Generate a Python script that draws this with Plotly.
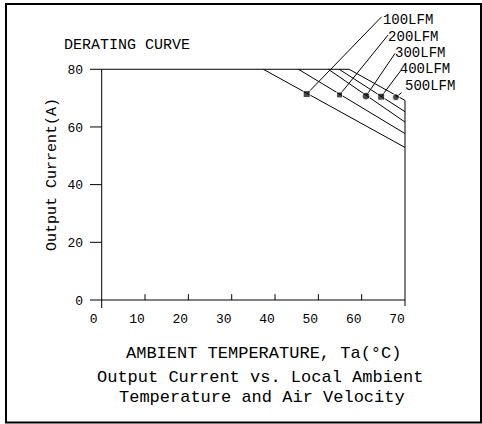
import plotly.graph_objects as go

# ---- data ----
airflow = ["100LFM", "200LFM", "300LFM", "400LFM", "500LFM"]
knee_temp = [37.3, 45.4, 52.3, 54.8, 57.1]      # deg C where derating starts
end_current = [52.9, 57.7, 61.7, 65.3, 69.2]    # A at 70 deg C
max_current = 80
max_temp = 70
dot_temp = [47.3, 54.9, 61.0, 64.5, 67.9]
dot_current = [71.4, 71.1, 70.7, 70.5, 70.3]
label_temp = [64.9, 66.1, 67.7, 68.8, 70.0]
label_current = [96.9, 91.1, 85.4, 79.8, 73.9]
leader_temp = [64.6, 66.1, 67.7, 69.0, 69.2]
leader_current = [98.2, 91.9, 85.5, 79.5, 71.9]
x_ticks = [0, 10, 20, 30, 40, 50, 60, 70]
y_ticks = [0, 20, 40, 60, 80]

# ---- pixel geometry ----
W, H = 482, 424
ML, MR, MT, MB = 84, 8, 12, 115
X0PX, XSCALE = 101.7, 4.333   # px of 0 degC, px per degC
Y0PX, YSCALE = 300.0, 2.884   # px of 0 A, px per A
xr = [(ML - X0PX) / XSCALE, (W - MR - X0PX) / XSCALE]
yr = [(Y0PX - (H - MB)) / YSCALE, (Y0PX - MT) / YSCALE]
def px_x(p):
    return (p - ML) / (W - ML - MR)
def px_y(p):
    return ((H - MB) - p) / (H - MT - MB)

FONT = "Liberation Mono"
BLACK = "#000000"
fig = go.Figure()

# axis lines and ticks drawn in data space
ytick_len = 11.7 / XSCALE
xtick_len = 5.8 / YSCALE
ax_x, ax_y = [], []
# y axis line (extends below x axis as 0 tick)
ax_x += [0, 0, None]; ax_y += [-8 / YSCALE, max_current, None]
for v in y_ticks:
    ax_x += [-ytick_len, 0, None]; ax_y += [v, v, None]
# x axis line
ax_x += [0, max_temp, None]; ax_y += [0, 0, None]
for v in x_ticks[1:-1]:
    ax_x += [v, v, None]; ax_y += [0, xtick_len, None]
fig.add_trace(go.Scatter(x=ax_x, y=ax_y, mode="lines",
                         line=dict(color=BLACK, width=1), hoverinfo="skip", showlegend=False))

# right limit line at max temp
fig.add_trace(go.Scatter(x=[max_temp, max_temp], y=[-6 / YSCALE, max(end_current)], mode="lines",
                         line=dict(color=BLACK, width=1), hoverinfo="skip", showlegend=False))

# derating curves
for i, name in enumerate(airflow):
    xs = [knee_temp[i], max_temp]
    ys = [max_current, end_current[i]]
    if i == 0:
        xs = [0] + xs
        ys = [max_current] + ys
    if i == len(airflow) - 1:
        xs = [knee_temp[0]] + xs
        ys = [max_current] + ys
    fig.add_trace(go.Scatter(x=xs, y=ys, mode="lines", name=name,
                             line=dict(color=BLACK, width=1), showlegend=False))

# leader lines
lx, ly = [], []
for i in range(len(airflow)):
    lx += [dot_temp[i], leader_temp[i], None]
    ly += [dot_current[i], leader_current[i], None]
fig.add_trace(go.Scatter(x=lx, y=ly, mode="lines", line=dict(color=BLACK, width=1),
                         hoverinfo="skip", showlegend=False))

# dots
fig.add_trace(go.Scatter(x=dot_temp, y=dot_current, mode="markers",
                         marker=dict(symbol=["square", "square", "circle", "square", "circle"],
                                     size=[7, 6, 8, 7, 7], color=BLACK),
                         showlegend=False, cliponaxis=False))

# labels
fig.add_trace(go.Scatter(x=label_temp, y=label_current, mode="text", text=airflow,
                         textposition="middle right",
                         textfont=dict(family=FONT, size=14, color=BLACK),
                         showlegend=False, cliponaxis=False))

fig.update_layout(
    width=W, height=H,
    margin=dict(l=ML, r=MR, t=MT, b=MB, pad=0),
    paper_bgcolor="white", plot_bgcolor="white",
    xaxis=dict(range=xr, tickvals=x_ticks, ticktext=[str(v) for v in x_ticks],
               showgrid=False, zeroline=False, showline=False, ticks="",
               ticklabelshift=-8,
               tickfont=dict(family=FONT, size=13, color=BLACK), fixedrange=True),
    yaxis=dict(range=yr, tickvals=y_ticks, ticktext=[str(v) for v in y_ticks],
               showgrid=False, zeroline=False, showline=False, ticks="",
               tickfont=dict(family=FONT, size=13, color=BLACK), fixedrange=True),
    showlegend=False,
)

ann_font = dict(family=FONT, color=BLACK)
def add_text(text, cx, cy, size, angle=0):
    fig.add_annotation(text=text, xref="paper", yref="paper", x=px_x(cx), y=px_y(cy),
                       xanchor="center", yanchor="middle", showarrow=False,
                       textangle=angle, font=dict(size=size, **ann_font))

add_text("DERATING CURVE", 127, 45, 15)
add_text("Output Current(A)", 52, 175, 15, angle=-90)
add_text("AMBIENT TEMPERATURE, Ta(°C)", 263, 353, 17)
add_text("Output Current vs. Local Ambient", 260, 377, 17)
add_text("Temperature and Air Velocity", 262, 397, 17)

# outer frame
fig.add_shape(type="rect", xref="paper", yref="paper",
              x0=px_x(6), x1=px_x(481), y0=px_y(422.5), y1=px_y(4),
              line=dict(color=BLACK, width=2), fillcolor="rgba(0,0,0,0)", layer="below")

fig.write_html("out.html", config={"displayModeBar": False},
               post_script="document.body.style.margin='0';document.body.style.overflow='hidden';")
